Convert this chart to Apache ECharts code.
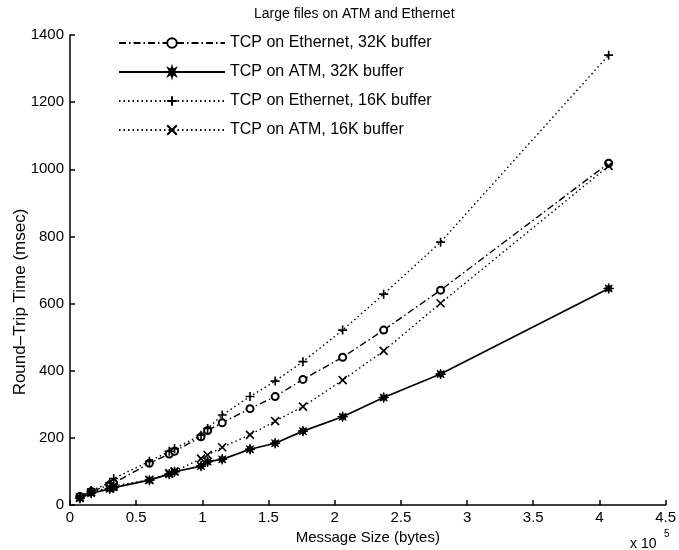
<!DOCTYPE html>
<html>
<head>
<meta charset="utf-8">
<script src="https://cdn.jsdelivr.net/npm/echarts@6/dist/echarts.min.js"></script>
<style>
html,body{margin:0;padding:0;background:#fff;}
#chart{width:679px;height:550px;}
</style>
</head>
<body>
<div id="chart"></div>
<script>
// Message sizes (units of 1e5 bytes)
var messageSizes = [0.075, 0.16, 0.30, 0.33, 0.60, 0.75, 0.79, 0.99, 1.04, 1.15, 1.36, 1.55, 1.76, 2.06, 2.37, 2.80, 4.07];
var seriesNames = ['TCP on Ethernet, 32K buffer', 'TCP on ATM, 32K buffer', 'TCP on Ethernet, 16K buffer', 'TCP on ATM, 16K buffer'];
var eth32 = [25, 40, 60, 65, 124, 152, 160, 203, 222, 245, 287, 323, 374, 440, 521, 640, 1018];
var atm32 = [20, 35, 48, 52, 74, 92, 99, 116, 129, 136, 166, 184, 220, 263, 320, 390, 645];
var eth16 = [25, 43, 66, 79, 130, 160, 168, 208, 228, 268, 323, 369, 427, 521, 628, 783, 1340];
var atm16 = [22, 38, 52, 57, 75, 95, 100, 138, 149, 172, 209, 250, 293, 372, 459, 601, 1010];
var yTicks = [0, 200, 400, 600, 800, 1000, 1200, 1400];
var xTicks = [0, 0.5, 1, 1.5, 2, 2.5, 3, 3.5, 4, 4.5];

function pairs(ys) { return messageSizes.map(function (x, i) { return [x, ys[i]]; }); }

var FONT = 'Liberation Sans, Arial, sans-serif';
var starPath = 'path://M5,0L5.84,2.97L8.54,1.46L7.03,4.16L10,5L7.03,5.84L8.54,8.54L5.84,7.03L5,10L4.16,7.03L1.46,8.54L2.97,5.84L0,5L2.97,4.16L1.46,1.46L4.16,2.97Z';
var plusPath = 'path://M0,5L10,5M5,0L5,10';
var crossPath = 'path://M0,0L10,10M10,0L0,10';

var chart = echarts.init(document.getElementById('chart'), null, {renderer: 'canvas'});
chart.setOption({
  animation: false,
  backgroundColor: '#fff',
  textStyle: {fontFamily: FONT, color: '#000'},
  title: {
    text: 'Large files on ATM and Ethernet',
    left: 254, top: 7, padding: 0,
    textStyle: {fontFamily: FONT, fontSize: 14, fontWeight: 'normal', color: '#000'}
  },
  legend: {
    orient: 'vertical',
    left: 118, top: 35, padding: 0,
    itemWidth: 106, itemHeight: 12, itemGap: 13,
    data: seriesNames,
    textStyle: {fontFamily: FONT, fontSize: 16, color: '#000'}
  },
  grid: {left: 70, right: 12, top: 35, bottom: 45, containLabel: false},
  xAxis: {
    type: 'value', min: 0, max: 4.5, interval: 0.5,
    name: 'Message Size (bytes)', nameLocation: 'middle', nameGap: 22,
    nameTextStyle: {fontFamily: FONT, fontSize: 15, color: '#000'},
    axisLine: {show: true, lineStyle: {color: '#000', width: 1.5}},
    axisTick: {show: true, inside: true, length: 5, lineStyle: {color: '#000', width: 1.5}},
    axisLabel: {fontFamily: FONT, fontSize: 15, color: '#000', margin: 5,
      formatter: function (v) { return xTicks.indexOf(v) >= 0 ? String(v) : ''; }},
    splitLine: {show: false}
  },
  yAxis: {
    type: 'value', min: 0, max: 1400, interval: 200,
    axisLine: {show: true, lineStyle: {color: '#000', width: 1.5}},
    axisTick: {show: true, inside: true, length: 5, lineStyle: {color: '#000', width: 1.5}},
    axisLabel: {fontFamily: FONT, fontSize: 15, color: '#000', margin: 6,
      formatter: function (v) { return yTicks.indexOf(v) >= 0 ? String(v) : ''; }},
    splitLine: {show: false}
  },
  graphic: [
    {type: 'text', left: 630, top: 537, style: {text: 'x 10', font: '14px ' + FONT, fill: '#000'}},
    {type: 'text', left: 664, top: 529, style: {text: '5', font: '10px ' + FONT, fill: '#000'}},
    {type: 'text', x: 20, y: 302, rotation: Math.PI / 2,
      style: {text: 'Round\u2013Trip Time (msec)', font: '17px ' + FONT, fill: '#000', align: 'center', verticalAlign: 'middle'}}
  ],
  series: [
    {
      name: seriesNames[0], type: 'line', data: pairs(eth32),
      symbol: 'emptyCircle', symbolSize: 7,
      lineStyle: {color: '#000', width: 1.4, type: [7, 3, 1.5, 3]},
      itemStyle: {color: '#000', borderColor: '#000', borderWidth: 1.4}
    },
    {
      name: seriesNames[1], type: 'line', data: pairs(atm32),
      symbol: starPath, symbolSize: 10,
      lineStyle: {color: '#000', width: 1.7, type: 'solid'},
      itemStyle: {color: '#000', borderColor: '#000', borderWidth: 1}
    },
    {
      name: seriesNames[2], type: 'line', data: pairs(eth16),
      symbol: plusPath, symbolSize: 9,
      lineStyle: {color: '#000', width: 1.4, type: [1.5, 3]},
      itemStyle: {color: '#000', borderColor: '#000', borderWidth: 1.6}
    },
    {
      name: seriesNames[3], type: 'line', data: pairs(atm16),
      symbol: crossPath, symbolSize: 8,
      lineStyle: {color: '#000', width: 1.4, type: [1.5, 3]},
      itemStyle: {color: '#000', borderColor: '#000', borderWidth: 1.6}
    }
  ]
});
</script>
</body>
</html>
